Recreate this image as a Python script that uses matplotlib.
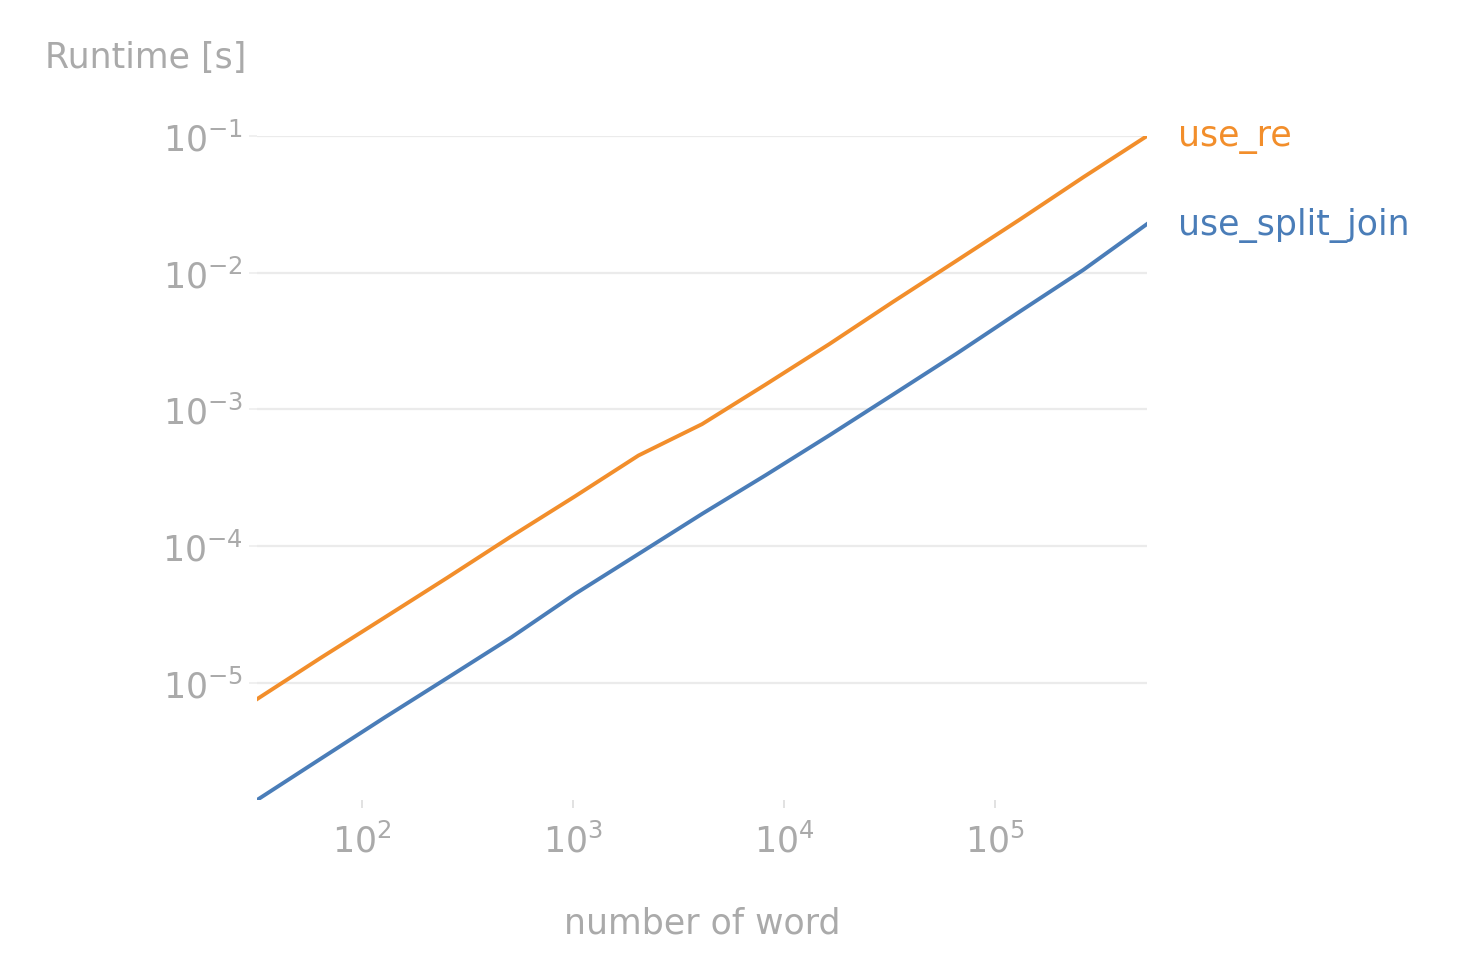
import numpy as np
import matplotlib.pyplot as plt

# problem sizes: powers of two from 2^5 to 2^19
n_words = [2 ** k for k in range(5, 20)]

# runtimes in seconds
use_re = [7.6e-6, 1.52e-5, 2.99e-5, 5.9e-5, 1.18e-4, 2.31e-4, 4.6e-4, 7.8e-4,
          1.52e-3, 3.0e-3, 6.1e-3, 1.22e-2, 2.45e-2, 5.0e-2, 1.0e-1]
use_split_join = [1.39e-6, 2.78e-6, 5.55e-6, 1.09e-5, 2.15e-5, 4.46e-5, 8.75e-5,
                  1.72e-4, 3.3e-4, 6.45e-4, 1.28e-3, 2.55e-3, 5.2e-3, 1.05e-2, 2.27e-2]

labels = ["use_re", "use_split_join"]
colors = ["#f28e2b", "#4a7db8"]
grey = "#aaaaaa"

plt.rcParams['font.family'] = ['DejaVu Sans']
plt.rcParams['font.size'] = 12.5

fig = plt.figure(figsize=(7.29, 4.81), dpi=200)
ax = fig.add_axes([0.1763, 0.1674, 0.6104, 0.6902])

for series, name, col in zip([use_re, use_split_join], labels, colors):
    ax.plot(n_words, series, color=col, lw=1.4)
    ax.annotate(name, xy=(n_words[-1], series[-1]), xytext=(11, 0),
                textcoords="offset points", va="center", ha="left", color=col)

ax.set_xscale("log")
ax.set_yscale("log")
ax.set_xlim(n_words[0], n_words[-1])
ax.set_ylim(min(use_split_join), max(use_re))
ax.set_xticks([1e2, 1e3, 1e4, 1e5])
ax.set_yticks([1e-5, 1e-4, 1e-3, 1e-2, 1e-1])
ax.minorticks_off()

for side in ["top", "right", "bottom", "left"]:
    ax.spines[side].set_visible(False)

ax.grid(axis="y", color="#ebebeb", lw=0.8)
ax.set_axisbelow(True)
ax.tick_params(axis="x", colors="#dddddd", labelcolor=grey, length=3, width=0.6, pad=5)
ax.tick_params(axis="y", colors="#eeeeee", labelcolor=grey, length=3, width=0.6, pad=2)

ax.set_xlabel("number of word", color=grey, labelpad=17)
fig.text(0.031, 0.94, "Runtime [s]", color=grey, ha="left", va="center")

fig.savefig("out.png", dpi=200)
